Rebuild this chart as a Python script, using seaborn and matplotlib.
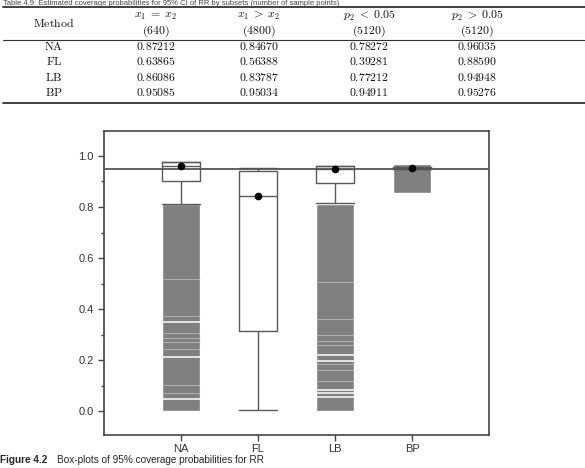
import numpy as np
import pandas as pd
import matplotlib.pyplot as plt
import seaborn as sns
from matplotlib.lines import Line2D

# ---- table data ----
col_heads = [r'$x_1 \;=\; x_2$', r'$x_1 \;>\; x_2$', r'$p_2 \;<\; 0.05$', r'$p_2 \;>\; 0.05$']
col_counts = ['640', '4800', '5120', '5120']
row_methods = ['NA', 'FL', 'LB', 'BP']
cov_eq = ['0.87212', '0.63865', '0.86086', '0.95085']
cov_gt = ['0.84670', '0.56388', '0.83787', '0.95034']
cov_p_lo = ['0.78272', '0.39281', '0.77212', '0.94911']
cov_p_hi = ['0.96035', '0.88590', '0.94948', '0.95276']

# ---- box-plot summaries ----
methods = ['NA', 'FL', 'LB', 'BP']
whis_lo = [0.812, 0.004, 0.815, 0.948]
q1 = [0.900, 0.314, 0.896, 0.948]
med = [0.962, 0.843, 0.950, 0.951]
q3 = [0.975, 0.940, 0.962, 0.955]
whis_hi = [0.975, 0.953, 0.962, 0.955]
means = [0.960, 0.843, 0.948, 0.953]

# dense outliers show up as solid gray bands, with white gaps
flier_lo = [0.0, np.nan, 0.0, 0.853]
flier_hi = [0.810, np.nan, 0.812, 0.967]
na_gaps_bright = [0.350, 0.210, 0.049]
na_gaps_faint = [0.516, 0.372, 0.304, 0.285, 0.269, 0.244, 0.101, 0.069]
lb_gaps_bright = [0.220, 0.196, 0.082, 0.069, 0.055]
lb_gaps_faint = [0.505, 0.360, 0.300, 0.276, 0.259, 0.186, 0.161, 0.118]

sns.set_style('ticks')
plt.rcParams['font.family'] = ['Liberation Sans', 'DejaVu Sans']
plt.rcParams['mathtext.fontset'] = 'cm'

fig = plt.figure(figsize=(5.85, 4.68), dpi=100)

# ---- table (drawn as figure text) ----
def fy(py):
    return 1 - py / 468

def fx(px):
    return px / 585

fig.text(0.005, fy(0.3), 'Table 4.9: Estimated coverage probabilities for 95% CI of RR by subsets (number of sample points)',
         fontsize=5.5, va='top', ha='left', color='#444444')
for yy, lw in [(7, 1.3), (40, 0.8), (103, 1.3)]:
    fig.add_artist(Line2D([fx(3), 1.0], [fy(yy), fy(yy)], color='#333333', lw=lw))

col_x = [156, 259, 369, 477]
tk = dict(fontsize=8.5, ha='center', va='center', color='#111111')
fig.text(fx(54), fy(23.5), r'$\mathrm{Method}$', **tk)
for cx, h, n in zip(col_x, col_heads, col_counts):
    fig.text(fx(cx), fy(16), h, **tk)
    fig.text(fx(cx), fy(31.5), r'$\mathrm{(' + n + ')}$', **tk)
row_y = [47, 62, 78, 93]
for i, ry in enumerate(row_y):
    fig.text(fx(54), fy(ry), r'$\mathrm{' + row_methods[i] + '}$', **tk)
    for cx, col in zip(col_x, [cov_eq, cov_gt, cov_p_lo, cov_p_hi]):
        fig.text(fx(cx), fy(ry), r'$\mathrm{' + col[i] + '}$', **tk)

# ---- box plot ----
ax = fig.add_axes([104 / 585, 1 - 435 / 468, 385 / 585, 304 / 468])

rows = []
for i, m in enumerate(methods):
    for v in [whis_lo[i], q1[i], med[i], q3[i], whis_hi[i]]:
        rows.append({'method': m, 'value': v})
df = pd.DataFrame(rows)

pos = np.arange(len(methods))
lo = np.array(flier_lo)
hi = np.array(flier_hi)
ax.bar(pos, hi - lo, bottom=lo, width=0.5, color='#808080', zorder=1)
for p, bright, faint in [(0, na_gaps_bright, na_gaps_faint), (2, lb_gaps_bright, lb_gaps_faint)]:
    ax.hlines(faint, p - 0.25, p + 0.25, color='#c4c4c4', lw=0.5, zorder=1.5)
    ax.hlines(bright, p - 0.25, p + 0.25, color='white', lw=1.1, zorder=1.5)

ax.axhline(0.95, color='#555555', lw=1.3, zorder=3)

sns.boxplot(data=df, x='method', y='value', order=methods, whis=(0, 100), width=0.5,
            fill=False, color='#5a5a5a', linewidth=1.0, showfliers=False,
            capwidths=0.5, ax=ax)

sns.stripplot(x=methods, y=means, order=methods, jitter=False, color='black',
              size=5.5, zorder=5, ax=ax)

ax.set_xlim(-1, 4)
ax.set_ylim(-0.094, 1.098)
ax.set_yticks([0.0, 0.2, 0.4, 0.6, 0.8, 1.0])
ax.set_yticklabels(['0.0', '0.2', '0.4', '0.6', '0.8', '1.0'])
ax.set_yticks([0.1, 0.3, 0.5, 0.7, 0.9], minor=True)
ax.set_xlabel('')
ax.set_ylabel('')
ax.tick_params(axis='both', which='major', labelsize=8, length=4, width=1, color='#444444', labelcolor='#333333')
ax.tick_params(axis='x', which='major', pad=2.5)
ax.tick_params(axis='y', which='minor', length=2.5, width=1, color='#444444')
for s in ax.spines.values():
    s.set_visible(True)
    s.set_color('#444444')
    s.set_linewidth(1.2)

# ---- caption ----
fig.text(0.0, fy(460), 'Figure 4.2', fontsize=7.2, weight='bold', va='center', ha='left')
fig.text(fx(57), fy(460), 'Box-plots of 95% coverage probabilities for RR', fontsize=7.2,
         va='center', ha='left')

fig.savefig('out.png', dpi=100)
